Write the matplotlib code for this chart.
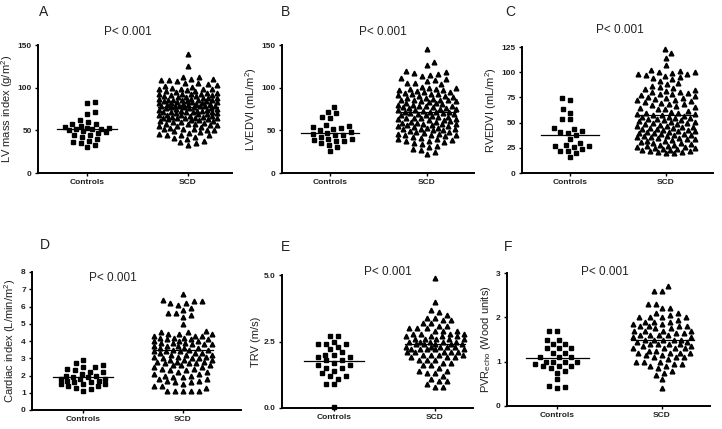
import numpy as np
import matplotlib
matplotlib.use('Agg')
import matplotlib.pyplot as plt

plt.rcParams['font.family'] = ['Liberation Sans', 'DejaVu Sans']
plt.rcParams['mathtext.default'] = 'regular'

# Data
groups = ['Controls', 'SCD']

a_controls = [83, 82, 72, 69, 62, 60, 58, 57, 55, 54, 53, 53, 52, 52, 51, 50, 49, 48,
              47, 45, 44, 42, 40, 38, 36, 35, 33, 30]
a_scd = [140, 125, 113, 113, 110, 110, 109, 109, 108, 106, 105, 104, 103, 102, 101, 100,
         99, 99, 98, 98, 97, 96, 96, 95, 94, 94, 93, 93, 92, 92, 91, 91, 90, 90,
         89, 89, 88, 88, 88, 87, 87, 86, 86, 86, 85, 85,
         84, 84, 84, 83, 83, 83, 82, 82, 82, 81, 81, 81, 80, 80,
         79, 79, 79, 78, 78, 78, 77, 77, 77, 76, 76, 76, 75, 75,
         74, 74, 73, 73, 73, 72, 72, 71, 71, 71, 70, 70,
         69, 69, 68, 68, 68, 67, 67, 66, 66, 65, 65, 65,
         64, 64, 63, 63, 62, 62, 61, 61, 60, 60, 59, 58, 58, 57, 56, 56, 55, 55,
         54, 53, 52, 52, 51, 50, 50, 49, 48, 47, 46, 45, 45, 44, 42, 41, 40, 38, 36, 35, 33]
a_lines = [51, 77]

b_controls = [77, 72, 70, 66, 65, 56, 55, 54, 53, 52, 50, 48, 47, 46, 45, 44, 42, 40, 40,
              39, 38, 37, 35, 33, 30, 26]
b_scd = [145, 130, 126, 119, 118, 117, 116, 115, 114, 111, 110, 109, 108, 106, 105, 104,
         101, 100, 100, 99, 98, 97, 97, 96, 95, 95, 94, 93,
         92, 92, 91, 90, 90, 89, 88, 88, 87, 86, 86, 85, 85,
         84, 84, 83, 82, 82, 81, 80, 80, 79, 78, 78, 77, 77, 76, 76,
         75, 75, 74, 74, 73, 72, 72, 71, 71, 70, 70, 69, 69, 68, 68, 67, 66, 66,
         65, 65, 64, 63, 63, 62, 62, 61, 60, 60, 59, 59, 58, 57, 57, 56, 56,
         55, 55, 54, 53, 53, 52, 51, 51, 50, 50, 49, 48, 48, 47, 46, 46, 45, 45,
         44, 43, 42, 41, 40, 40, 39, 38, 38, 36, 35, 34, 32, 30, 28, 27, 25, 22]
b_lines = [47, 71]

c_controls = [74, 72, 63, 60, 54, 54, 45, 44, 42, 41, 40, 38, 34, 30, 28, 27, 27, 26, 24,
              22, 22, 20, 16]
c_scd = [123, 119, 114, 107, 102, 101, 100, 100, 99, 98, 98, 97, 96, 95, 94, 93,
         91, 89, 88, 86, 85, 84, 83, 82,
         81, 80, 80, 79, 78, 78, 77, 76, 75, 74, 74, 73, 72, 72, 71, 70,
         69, 68, 68, 67, 66, 65, 64, 63, 63, 62, 61, 60, 60, 59, 59,
         58, 58, 57, 56, 56, 55, 55, 54, 54, 53, 53, 52, 51, 51, 50, 50, 49, 49,
         48, 47, 47, 46, 46, 45, 45, 44, 44, 43, 43, 42, 42, 41, 41, 40, 40,
         39, 39, 38, 38, 37, 37, 36, 36, 35, 35, 34, 34, 33, 32, 32, 31, 30, 30,
         29, 28, 28, 27, 27, 26, 26, 25, 25, 24, 24, 23, 23, 22, 22, 21, 21, 20, 20]
c_lines = [38, 58]

d_controls = [2.9, 2.7, 2.6, 2.5, 2.5, 2.4, 2.3, 2.2, 2.2, 2.1, 2.0, 2.0, 1.9, 1.9, 1.8,
              1.8, 1.8, 1.7, 1.7, 1.6, 1.6, 1.5, 1.5, 1.5, 1.4, 1.4, 1.3, 1.2, 1.1]
d_scd = [6.7, 6.4, 6.3, 6.3, 6.2, 6.2, 6.1, 5.9, 5.8, 5.6, 5.6, 5.5, 5.4, 5.0,
         4.6, 4.5, 4.5, 4.4, 4.4, 4.4, 4.3, 4.3, 4.3, 4.2, 4.2, 4.2, 4.1, 4.1, 4.1,
         4.0, 4.0, 4.0, 3.9, 3.9, 3.9, 3.8, 3.8, 3.8, 3.7, 3.7, 3.7, 3.6, 3.6, 3.6,
         3.5, 3.5, 3.5, 3.4, 3.4, 3.4, 3.3, 3.3, 3.3, 3.2, 3.2, 3.2, 3.1, 3.1, 3.1,
         3.0, 3.0, 3.0, 2.9, 2.9, 2.9, 2.8, 2.8, 2.8, 2.7, 2.7, 2.7, 2.6, 2.6, 2.6,
         2.5, 2.5, 2.4, 2.4, 2.3, 2.3, 2.2, 2.2, 2.1, 2.1, 2.0, 2.0,
         1.9, 1.9, 1.8, 1.8, 1.7, 1.7, 1.6, 1.6, 1.5, 1.4, 1.4, 1.3, 1.1, 1.1, 1.1, 1.1, 1.1]
d_lines = [1.92, 3.47]

e_controls = [2.7, 2.7, 2.5, 2.4, 2.4, 2.4, 2.3, 2.2, 2.1, 2.0, 2.0, 1.9, 1.9, 1.8, 1.8,
              1.7, 1.6, 1.6, 1.5, 1.5, 1.4, 1.3, 1.2, 1.2, 1.1, 0.9, 0.9, 0.05]
e_scd = [4.9, 4.0, 3.7, 3.6, 3.5, 3.4, 3.4, 3.3, 3.3, 3.2, 3.2, 3.1, 3.1, 3.0, 3.0, 3.0,
         2.9, 2.9, 2.9, 2.8, 2.8, 2.8, 2.8, 2.7, 2.7, 2.7, 2.7, 2.6, 2.6, 2.6, 2.6, 2.6,
         2.5, 2.5, 2.5, 2.5, 2.5, 2.4, 2.4, 2.4, 2.4, 2.4, 2.3, 2.3, 2.3, 2.3, 2.3,
         2.2, 2.2, 2.2, 2.2, 2.2, 2.1, 2.1, 2.1, 2.1, 2.1, 2.0, 2.0, 2.0, 2.0,
         1.9, 1.9, 1.9, 1.8, 1.8, 1.8, 1.7, 1.7, 1.6, 1.6, 1.5, 1.4, 1.4, 1.3, 1.3,
         1.2, 1.1, 1.0, 1.0, 0.9, 0.8, 0.8]
e_lines = [1.78, 2.39]

f_controls = [1.7, 1.7, 1.5, 1.5, 1.4, 1.4, 1.3, 1.3, 1.3, 1.2, 1.2, 1.1, 1.1, 1.1, 1.0,
              1.0, 1.0, 1.0, 0.95, 0.9, 0.9, 0.9, 0.85, 0.8, 0.75, 0.6, 0.45, 0.42, 0.4]
f_scd = [2.7, 2.6, 2.6, 2.3, 2.3, 2.2, 2.2, 2.1, 2.1, 2.05, 2.0, 2.0, 2.0, 2.0,
         1.95, 1.9, 1.9, 1.9, 1.85, 1.85, 1.8, 1.8, 1.8, 1.8, 1.75, 1.75, 1.7, 1.7, 1.7, 1.7,
         1.65, 1.65, 1.6, 1.6, 1.6, 1.6, 1.55, 1.55, 1.5, 1.5, 1.5, 1.5, 1.5, 1.45, 1.45,
         1.4, 1.4, 1.4, 1.4, 1.35, 1.35, 1.3, 1.3, 1.3, 1.3, 1.25, 1.25, 1.2, 1.2, 1.2, 1.2,
         1.15, 1.15, 1.1, 1.1, 1.1, 1.05, 1.0, 1.0, 1.0, 0.95, 0.95, 0.9, 0.9, 0.85, 0.8,
         0.75, 0.7, 0.6, 0.4]
f_lines = [1.08, 1.48]

letters = ['A', 'B', 'C', 'D', 'E', 'F']
ylabels = ['LV mass index (g/m$^2$)', 'LVEDVI (mL/m$^2$)', 'RVEDVI (mL/m$^2$)',
           'Cardiac index (L/min/m$^2$)', 'TRV (m/s)', 'PVR$_{echo}$ (Wood units)']
yticks = [[0, 50, 100, 150], [0, 50, 100, 150], [0, 25, 50, 75, 100, 125],
          [0, 1, 2, 3, 4, 5, 6, 7, 8], [0.0, 2.5, 5.0], [0, 1, 2, 3]]
ytick_labels = [['0', '50', '100', '150'], ['0', '50', '100', '150'],
                ['0', '25', '50', '75', '100', '125'],
                [str(t) for t in range(9)], ['0.0', '2.5', '5.0'], ['0', '1', '2', '3']]
controls = [a_controls, b_controls, c_controls, d_controls, e_controls, f_controls]
scd = [a_scd, b_scd, c_scd, d_scd, e_scd, f_scd]
lines = [a_lines, b_lines, c_lines, d_lines, e_lines, f_lines]

# panel layout in pixels: y-axis x, cat0 x, cat1 x, axis right end, top, bottom
W, H = 722, 429
layout = [(38, 87, 188, 232, 45, 173), (282, 330, 427, 474, 45, 173),
          (522, 570, 666, 713, 47, 173), (32, 83, 183, 241, 272, 410),
          (282, 334, 435, 473, 275, 408), (507, 557, 662, 710, 273, 406)]
letter_pos = [(44, 12), (285, 12), (510, 12), (45, 245), (285, 247), (508, 247)]
p_pos = [(128, 32), (383, 32), (620, 30), (113, 278), (388, 272), (605, 272)]


def swarm(vals, ypx, xpx, gap_x=8.0, gap_y=4.5, half=28):
    # beeswarm in pixel space, squeezed into +-half pixels (overlap when dense)
    y = np.asarray(vals, float) * ypx
    xs = np.zeros(len(y))
    steps = np.arange(1, int(half) + 1, dtype=float)
    px, py = [], []
    for n, j in enumerate(np.argsort(y, kind='stable')):
        sign = 1 if n % 2 else -1
        cands = np.concatenate([[0.0], np.ravel(np.column_stack([sign * steps, -sign * steps]))])
        c = 0.0
        if px:
            ax_ = np.array(px)
            ay_ = np.array(py)
            near = np.abs(ay_ - y[j]) < gap_y
            if near.any():
                d = ((cands[:, None] - ax_[near][None, :]) / gap_x) ** 2 + \
                    ((y[j] - ay_[near][None, :]) / gap_y) ** 2
                dmin = d.min(axis=1)
                ok = np.where(dmin >= 1)[0]
                c = cands[ok[0]] if len(ok) else cands[np.argmax(dmin)]
        xs[j] = c
        px.append(c)
        py.append(y[j])
    return xs / xpx


fig = plt.figure(figsize=(W / 100, H / 100), dpi=100)
txt = '#222222'

for i in range(6):
    x0, c0, c1, x1, yt, yb = layout[i]
    ax = fig.add_axes([x0 / W, 1 - yb / H, (x1 - x0) / W, (yb - yt) / H])
    ppu = c1 - c0  # pixels per category unit
    ax.set_xlim((x0 - c0) / ppu, (x1 - c0) / ppu)
    ymax = yticks[i][-1]
    ax.set_ylim(0, ymax)
    ypx = (yb - yt) / ymax  # pixels per data unit

    xc = swarm(controls[i], ypx, ppu, gap_y=6, half=22)
    xs = swarm(scd[i], ypx, ppu, gap_y=6, half=29)
    ax.plot(xc, controls[i], 's', color='black', markersize=3.0, clip_on=False)
    ax.plot(1 + xs, scd[i], '^', color='black', markersize=3.4, clip_on=False)
    for k in range(2):
        ax.plot([k - 0.3, k + 0.3], [lines[i][k], lines[i][k]], color='black', lw=0.9)

    for s in ['top', 'right']:
        ax.spines[s].set_visible(False)
    for s in ['left', 'bottom']:
        ax.spines[s].set_linewidth(1.4)
    ax.set_xticks([0, 1])
    ax.set_xticklabels(groups, fontsize=6, fontweight='bold', color=txt)
    ax.set_yticks(yticks[i])
    ax.set_yticklabels(ytick_labels[i], fontsize=6, fontweight='bold', color=txt)
    ax.tick_params(axis='both', length=2.5, width=1, pad=2)
    ax.set_ylabel(ylabels[i], fontsize=8, color=txt, labelpad=2)

    lx, ly = letter_pos[i]
    fig.text(lx / W, 1 - ly / H, letters[i], fontsize=10, color=txt, ha='center', va='center')
    px, py = p_pos[i]
    fig.text(px / W, 1 - py / H, 'P< 0.001', fontsize=8.5, color=txt, ha='center', va='center')

fig.savefig('out.png', dpi=100, facecolor='white')
